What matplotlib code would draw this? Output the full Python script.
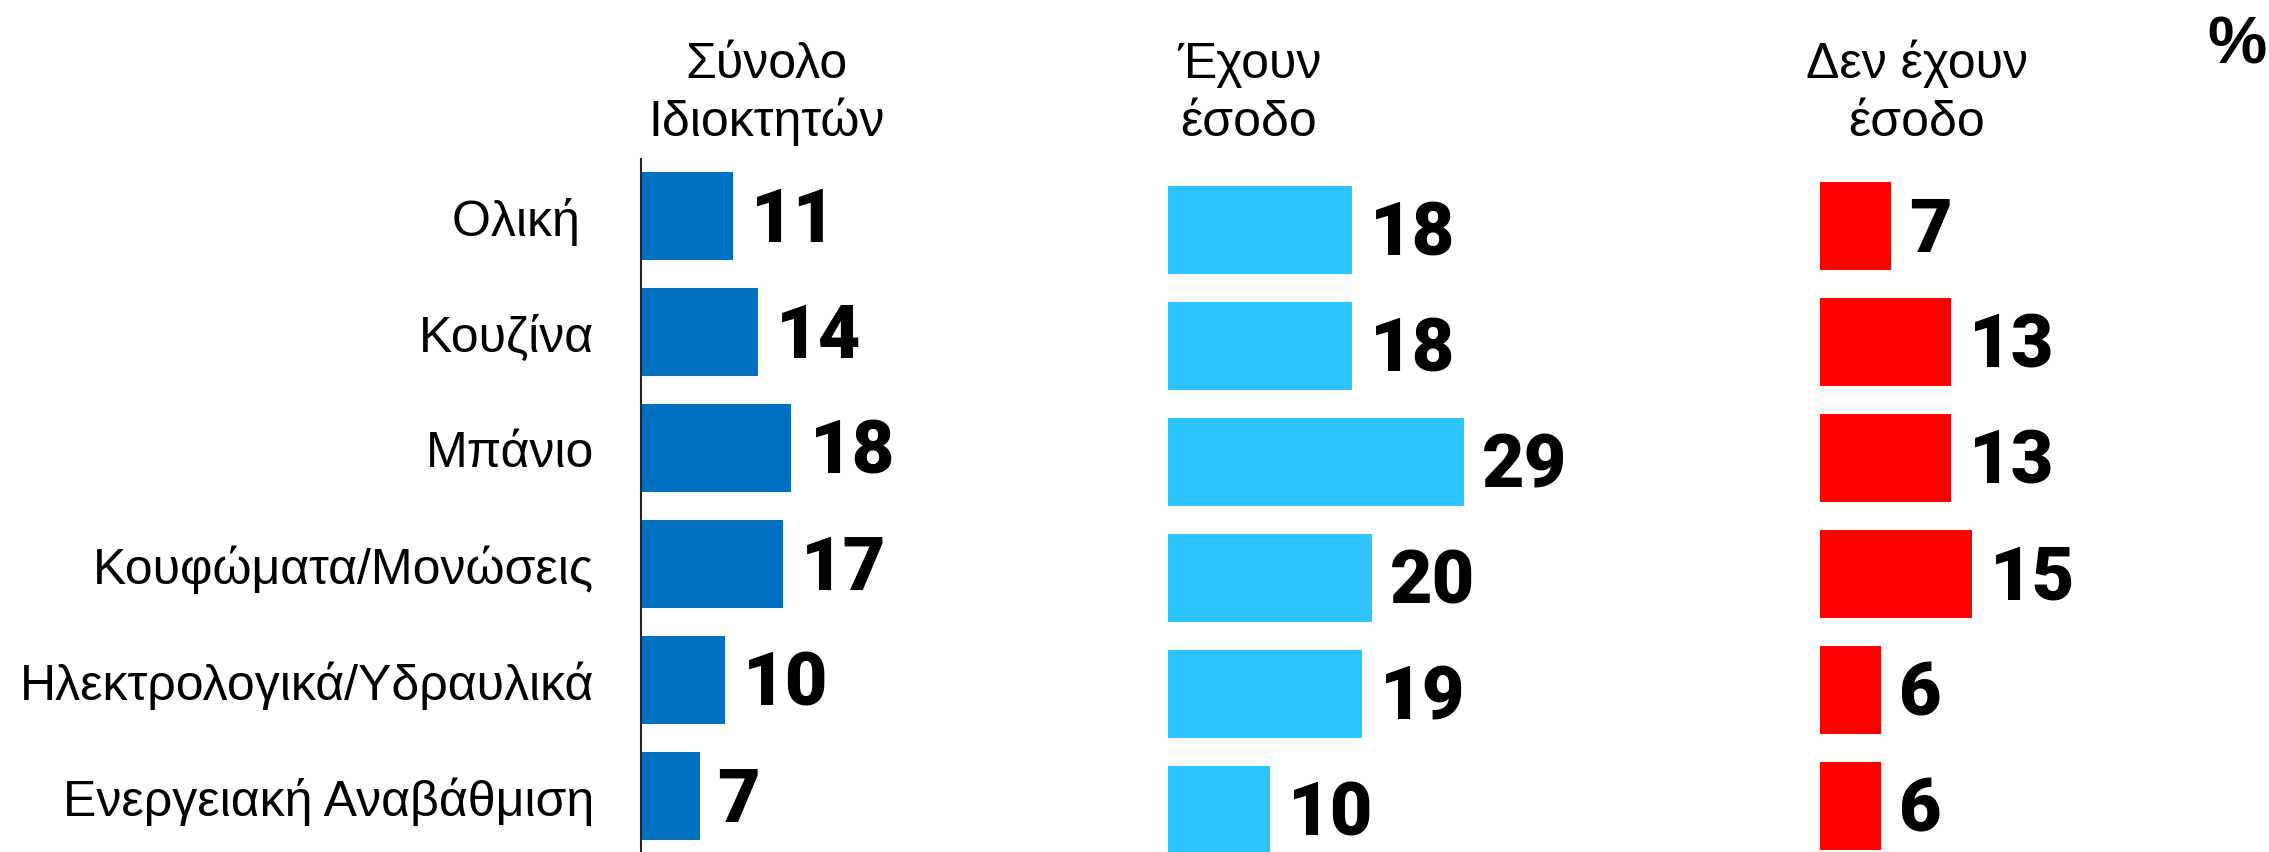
import matplotlib
matplotlib.use("Agg")
import matplotlib.pyplot as plt

W, H = 2269, 853
DPI = 100

categories = ["Ολική ", "Κουζίνα", "Μπάνιο", "Κουφώματα/Μονώσεις",
              "Ηλεκτρολογικά/Υδραυλικά", "Ενεργειακή Αναβάθμιση"]
total_owners = [11, 14, 18, 17, 10, 7]
with_income = [18, 18, 29, 20, 19, 10]
without_income = [7, 13, 13, 15, 6, 6]

headers = [("Σύνολο", "Ιδιοκτητών"), ("Έχουν", "έσοδο"), ("Δεν έχουν", "έσοδο")]
colors = ["#0070C0", "#2EC4FF", "#FF0000"]

fig = plt.figure(figsize=(W / DPI, H / DPI), dpi=DPI)
fig.patch.set_facecolor("white")

SPACING = 116.0
BAR_H = 88.0 / SPACING
LABEL_FONT = "Liberation Sans"
VAL_FONT = "Roboto"


def px_rect(left, top, width, height):
    return [left / W, 1 - (top + height) / H, width / W, height / H]


# (left px, top px, width px, height px, first bar centre px, px per unit)
panels = [
    (641, 160, 300, 693, 217, 8.36),
    (1168, 0, 420, 853, 231, 10.2),
    (1820, 0, 340, 853, 227, 10.1),
]
series = [total_owners, with_income, without_income]

for k, ((left, top, width, height, c0, ppu), vals, col) in enumerate(zip(panels, series, colors)):
    ax = fig.add_axes(px_rect(left, top, width, height))
    ypos = list(range(len(vals)))
    ax.barh(ypos, vals, height=BAR_H, color=col, edgecolor="none")
    ax.set_xlim(0, width / ppu)
    ax.set_ylim((top + height - c0) / SPACING, (top - c0) / SPACING)
    for s in ax.spines.values():
        s.set_visible(False)
    ax.set_xticks([])
    ax.set_facecolor("none")
    if k == 0:
        ax.spines["left"].set_visible(True)
        ax.spines["left"].set_color("#262626")
        ax.spines["left"].set_linewidth(1.5)
        ax.set_yticks(ypos)
        ax.set_yticklabels(categories, fontsize=36, family=LABEL_FONT, color="black")
        ax.tick_params(axis="y", length=0, pad=34)
    else:
        ax.set_yticks([])
    for y, v in zip(ypos, vals):
        ax.annotate(str(v), xy=(v, y), xytext=(13, -3), textcoords="offset points",
                    ha="left", va="center", fontsize=53, family=VAL_FONT,
                    fontweight="black", color="black", annotation_clip=False)

# Column headers
header_x = [767, 1249, 1917]
for (l1, l2), hx in zip(headers, header_x):
    fig.text(hx / W, 1 - 78 / H, l1, ha="center", va="baseline",
             fontsize=36, family=LABEL_FONT, color="black")
    fig.text(hx / W, 1 - 136 / H, l2, ha="center", va="baseline",
             fontsize=36, family=LABEL_FONT, color="black")

fig.text(2237 / W, 1 - 47 / H, "%", ha="center", va="center",
         fontsize=48, family=LABEL_FONT, fontweight="bold", color="black")

fig.savefig("out.png", dpi=DPI, facecolor="white")
